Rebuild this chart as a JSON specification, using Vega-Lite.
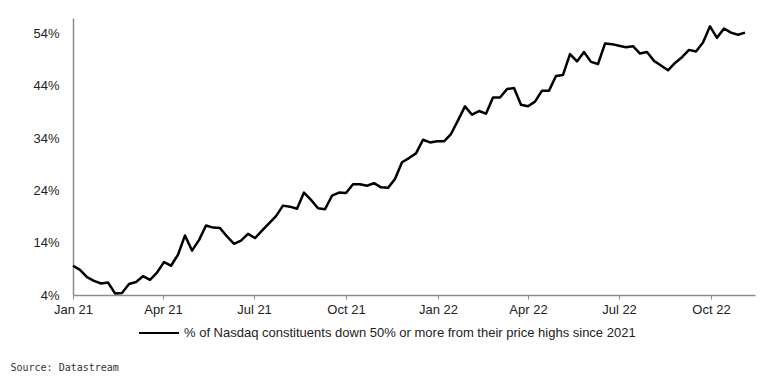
{
  "$schema": "https://vega.github.io/schema/vega-lite/v6.json",
  "width": 682,
  "height": 277,
  "autosize": "none",
  "padding": {"left": 73, "top": 18, "right": 29, "bottom": 82},
  "background": "white",
  "config": {
    "view": {"stroke": null},
    "font": "Liberation Sans"
  },
  "data": {
    "values": [
      {"d":"2021-01-01","v":9.6},{"d":"2021-01-08","v":8.8},{"d":"2021-01-15","v":7.4},{"d":"2021-01-22","v":6.7},{"d":"2021-01-29","v":6.2},
      {"d":"2021-02-05","v":6.4},{"d":"2021-02-12","v":4.3},{"d":"2021-02-19","v":4.4},{"d":"2021-02-26","v":6.1},
      {"d":"2021-03-05","v":6.5},{"d":"2021-03-12","v":7.6},{"d":"2021-03-19","v":6.9},{"d":"2021-03-26","v":8.3},
      {"d":"2021-04-02","v":10.3},{"d":"2021-04-09","v":9.6},{"d":"2021-04-16","v":11.7},{"d":"2021-04-23","v":15.4},{"d":"2021-04-30","v":12.5},
      {"d":"2021-05-07","v":14.5},{"d":"2021-05-14","v":17.3},{"d":"2021-05-21","v":16.9},{"d":"2021-05-28","v":16.8},
      {"d":"2021-06-04","v":15.2},{"d":"2021-06-11","v":13.8},{"d":"2021-06-18","v":14.4},{"d":"2021-06-25","v":15.7},
      {"d":"2021-07-02","v":14.9},{"d":"2021-07-09","v":16.3},{"d":"2021-07-16","v":17.7},{"d":"2021-07-23","v":19.1},{"d":"2021-07-30","v":21.1},
      {"d":"2021-08-06","v":20.9},{"d":"2021-08-13","v":20.5},{"d":"2021-08-20","v":23.6},{"d":"2021-08-27","v":22.2},
      {"d":"2021-09-03","v":20.6},{"d":"2021-09-10","v":20.4},{"d":"2021-09-17","v":23.0},{"d":"2021-09-24","v":23.6},
      {"d":"2021-10-01","v":23.5},{"d":"2021-10-08","v":25.2},{"d":"2021-10-15","v":25.2},{"d":"2021-10-22","v":24.9},{"d":"2021-10-29","v":25.4},
      {"d":"2021-11-05","v":24.6},{"d":"2021-11-12","v":24.5},{"d":"2021-11-19","v":26.2},{"d":"2021-11-26","v":29.4},
      {"d":"2021-12-03","v":30.2},{"d":"2021-12-10","v":31.1},{"d":"2021-12-17","v":33.7},{"d":"2021-12-24","v":33.2},{"d":"2021-12-31","v":33.4},
      {"d":"2022-01-07","v":33.4},{"d":"2022-01-14","v":34.8},{"d":"2022-01-21","v":37.4},{"d":"2022-01-28","v":40.1},
      {"d":"2022-02-04","v":38.5},{"d":"2022-02-11","v":39.2},{"d":"2022-02-18","v":38.7},{"d":"2022-02-25","v":41.8},
      {"d":"2022-03-04","v":41.8},{"d":"2022-03-11","v":43.4},{"d":"2022-03-18","v":43.6},{"d":"2022-03-25","v":40.4},
      {"d":"2022-04-01","v":40.1},{"d":"2022-04-08","v":41.0},{"d":"2022-04-15","v":43.1},{"d":"2022-04-22","v":43.1},{"d":"2022-04-29","v":45.9},
      {"d":"2022-05-06","v":46.1},{"d":"2022-05-13","v":50.1},{"d":"2022-05-20","v":48.7},{"d":"2022-05-27","v":50.5},
      {"d":"2022-06-03","v":48.6},{"d":"2022-06-10","v":48.2},{"d":"2022-06-17","v":52.1},{"d":"2022-06-24","v":52.0},
      {"d":"2022-07-01","v":51.7},{"d":"2022-07-08","v":51.4},{"d":"2022-07-15","v":51.6},{"d":"2022-07-22","v":50.2},{"d":"2022-07-29","v":50.5},
      {"d":"2022-08-05","v":48.8},{"d":"2022-08-12","v":47.9},{"d":"2022-08-19","v":47.0},{"d":"2022-08-26","v":48.4},
      {"d":"2022-09-02","v":49.5},{"d":"2022-09-09","v":50.9},{"d":"2022-09-16","v":50.6},{"d":"2022-09-23","v":52.3},{"d":"2022-09-30","v":55.4},
      {"d":"2022-10-07","v":53.2},{"d":"2022-10-14","v":55.0},{"d":"2022-10-21","v":54.2},{"d":"2022-10-28","v":53.8},
      {"d":"2022-11-04","v":54.2}
    ]
  },
  "mark": {"type": "line", "strokeWidth": 2.5, "strokeJoin": "round"},
  "encoding": {
    "x": {
      "field": "d",
      "type": "temporal",
      "scale": {"type": "utc", "domain": [{"year": 2021, "month": 1, "date": 1, "utc": true}, {"year": 2022, "month": 11, "date": 14, "utc": true}]},
      "axis": {
        "values": [
          {"year": 2021, "month": 1, "date": 1, "utc": true},
          {"year": 2021, "month": 4, "date": 1, "utc": true},
          {"year": 2021, "month": 7, "date": 1, "utc": true},
          {"year": 2021, "month": 10, "date": 1, "utc": true},
          {"year": 2022, "month": 1, "date": 1, "utc": true},
          {"year": 2022, "month": 4, "date": 1, "utc": true},
          {"year": 2022, "month": 7, "date": 1, "utc": true},
          {"year": 2022, "month": 10, "date": 1, "utc": true}
        ],
        "labelExpr": "utcFormat(datum.value, '%b %y')",
        "grid": false,
        "domainColor": "#8c8c8c",
        "domainWidth": 1.5,
        "tickColor": "#8c8c8c",
        "tickSize": 4,
        "labelFontSize": 13,
        "labelColor": "#222222",
        "labelPadding": 4,
        "labelFlush": false,
        "title": "Source: Datastream",
        "titleFont": "DejaVu Sans Mono",
        "titleFontSize": 10,
        "titleFontWeight": "normal",
        "titleColor": "#333333",
        "titleAlign": "left",
        "titleAnchor": "start",
        "titleBaseline": "middle",
        "titleX": -63,
        "titleY": 72
      }
    },
    "y": {
      "field": "v",
      "type": "quantitative",
      "scale": {"domain": [4, 57], "nice": false, "zero": false},
      "axis": {
        "values": [4, 14, 24, 34, 44, 54],
        "labelExpr": "datum.value + '%'",
        "grid": false,
        "ticks": false,
        "domainColor": "#8c8c8c",
        "domainWidth": 1.5,
        "labelFontSize": 13,
        "labelColor": "#222222",
        "labelPadding": 14,
        "title": null
      }
    },
    "color": {
      "datum": "% of Nasdaq constituents down 50% or more from their price highs since 2021",
      "scale": {"range": ["#000000"]},
      "legend": {
        "orient": "none",
        "legendX": 65,
        "legendY": 294,
        "title": null,
        "symbolType": "stroke",
        "symbolSize": 1600,
        "symbolStrokeWidth": 2,
        "labelFontSize": 13,
        "labelColor": "#222222",
        "labelLimit": 600,
        "labelOffset": 4
      }
    }
  }
}
